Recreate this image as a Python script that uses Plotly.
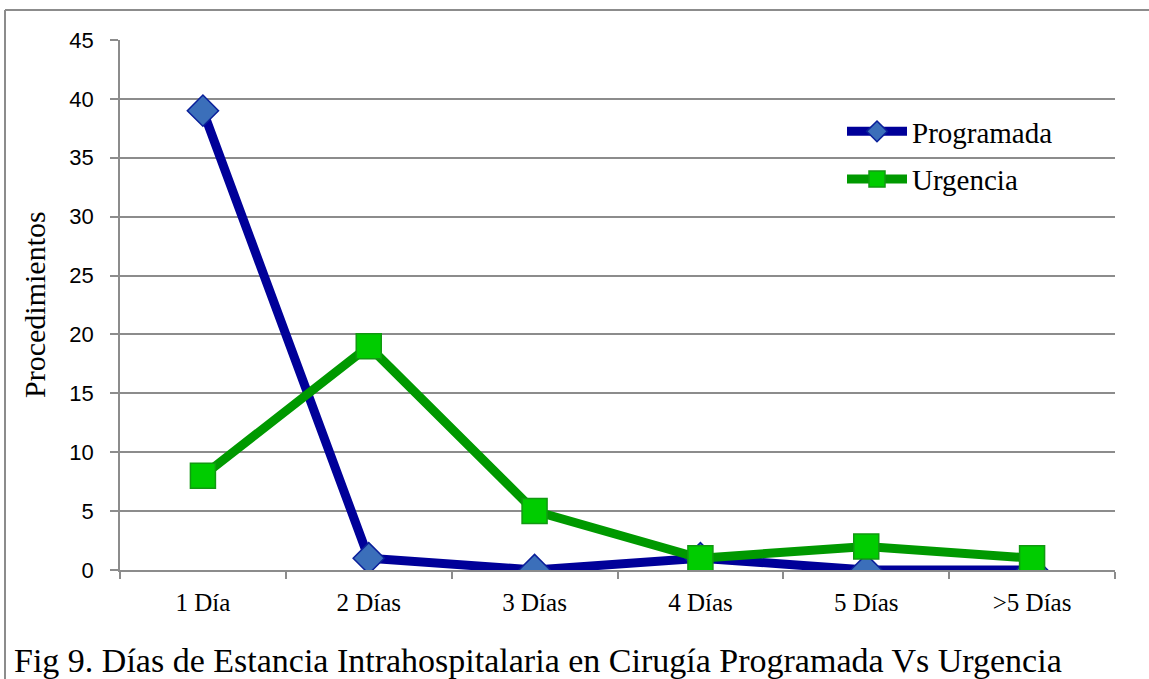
import plotly.graph_objects as go

categorias = ["1 Día", "2 Días", "3 Días", "4 Días", "5 Días", ">5 Días"]
programada = [39, 1, 0, 1, 0, 0]
urgencia = [8, 19, 5, 1, 2, 1]
y_ticks = [0, 5, 10, 15, 20, 25, 30, 35, 40, 45]

W, H = 1149, 679
ML, MR, MT, MB = 120, 34, 40, 109
PW, PH = W - ML - MR, H - MT - MB


def px_x(px):
    return (px - ML) / PW


def px_y(py):
    return (H - MB - py) / PH


fig = go.Figure()
fig.add_trace(go.Scatter(
    x=categorias, y=programada, name="Programada", mode="lines+markers",
    legendgroup="prog",
    line=dict(color="#000099", width=9),
    marker=dict(symbol="diamond", size=24, color="#3b6fba",
                line=dict(color="#0a1f9a", width=1.5)),
))
fig.add_trace(go.Scatter(
    x=categorias, y=urgencia, name="Urgencia", mode="lines+markers",
    legendgroup="urg",
    line=dict(color="#009900", width=9),
    marker=dict(symbol="square", size=25, color="#00cc00",
                line=dict(color="#119911", width=1.5)),
))

grid = "#8c8c8c"
fig.update_layout(
    width=W, height=H,
    margin=dict(l=ML, r=MR, t=MT, b=MB),
    paper_bgcolor="white", plot_bgcolor="white",
    showlegend=True,
    legend=dict(x=px_x(842), y=px_y(106), xanchor="left", yanchor="top",
                font=dict(family="Liberation Serif", size=29, color="black"),
                bgcolor="rgba(255,255,255,0)", itemwidth=60,
                tracegroupgap=7),
    xaxis=dict(type="category", showgrid=False, showline=True, linecolor=grid,
               linewidth=1.5, ticks="outside", tickson="boundaries",
               ticklen=7, tickcolor=grid, tickwidth=1.5,
               ticklabelstandoff=9,
               tickfont=dict(family="Liberation Serif", size=25, color="black"),
               range=[-0.5, 5.5], zeroline=False),
    yaxis=dict(range=[0, 45], tickvals=y_ticks, showgrid=True, gridcolor=grid,
               gridwidth=1.5, showline=True, linecolor=grid, linewidth=1.5,
               ticks="outside", ticklen=8, tickcolor=grid, tickwidth=1.5,
               ticklabelstandoff=12,
               tickfont=dict(family="Liberation Sans", size=22, color="black"),
               zeroline=False),
    shapes=[
        dict(type="line", xref="paper", yref="paper",
             x0=px_x(5), x1=px_x(1149), y0=px_y(10), y1=px_y(10),
             line=dict(color="#8c8c8c", width=2)),
        dict(type="line", xref="paper", yref="paper",
             x0=px_x(5), x1=px_x(5), y0=px_y(10), y1=px_y(679),
             line=dict(color="#8c8c8c", width=2)),
    ],
    annotations=[
        dict(text="Procedimientos", xref="paper", yref="paper",
             x=px_x(34), y=px_y(305), textangle=-90, showarrow=False,
             xanchor="center", yanchor="middle",
             font=dict(family="Liberation Serif", size=30, color="black")),
        dict(text="Fig 9. Días de Estancia Intrahospitalaria en Cirugía Programada Vs Urgencia",
             xref="paper", yref="paper", x=px_x(12), y=px_y(660),
             xanchor="left", yanchor="middle", showarrow=False,
             font=dict(family="Liberation Serif", size=34, color="black")),
    ],
)

fig.write_html("out.html")
